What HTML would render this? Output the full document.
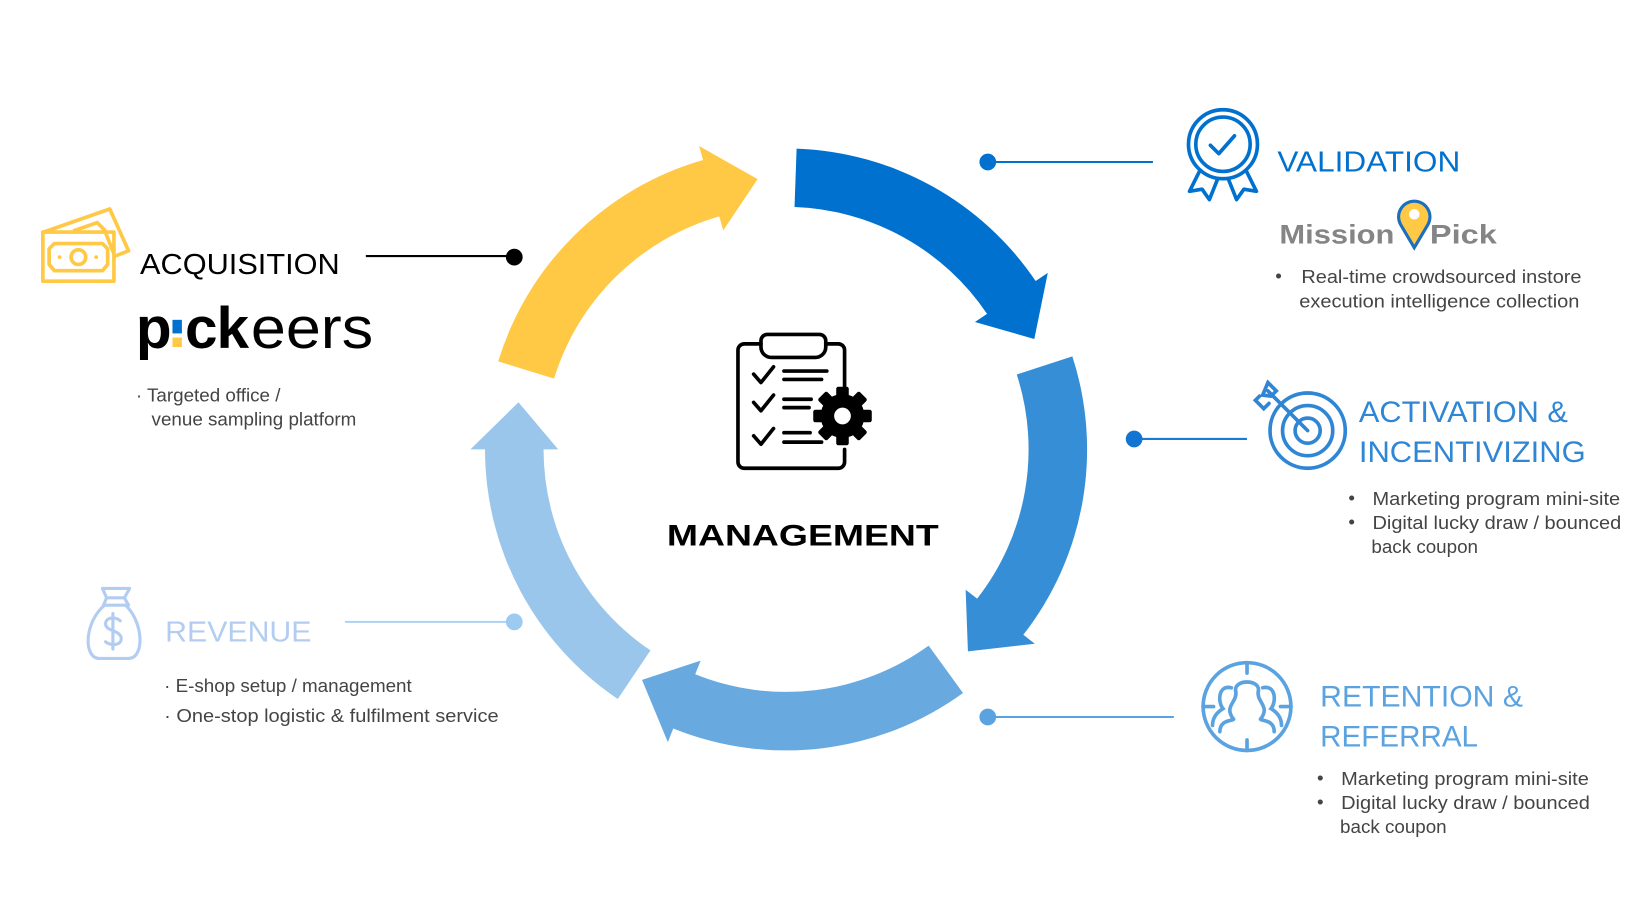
<!DOCTYPE html>
<html><head><meta charset="utf-8"><style>
html,body{margin:0;padding:0;background:#fff;}
svg{display:block;}
text{font-family:"Liberation Sans",sans-serif;}
</style></head><body>
<svg width="1639" height="902" viewBox="0 0 1568 863" preserveAspectRatio="none" xmlns="http://www.w3.org/2000/svg">
<rect width="1568" height="863" fill="#fff"/>
<!-- cycle arrows -->
<path d="M476.6,345.8 A288,288 0 0 1 672.6,153.1 L668.8,139.7 L724.8,171.4 L691.9,220.4 L688.1,207.0 A232,232 0 0 0 530.1,362.2 Z" fill="#FFC845"/>
<path d="M762.1,142.2 A288,288 0 0 1 990.8,268.9 L1002.4,261.1 L989.5,324.3 L932.7,308.1 L944.3,300.3 A232,232 0 0 0 760.1,198.1 Z" fill="#0071CE"/>
<path d="M1025.9,341.0 A288,288 0 0 1 979.0,607.3 L990.0,615.9 L926.0,623.2 L923.8,564.2 L934.8,572.8 A232,232 0 0 0 972.7,358.3 Z" fill="#368FD6"/>
<path d="M921.3,663.0 A288,288 0 0 1 644.1,697.0 L638.9,710.0 L614.2,650.5 L670.3,632.1 L665.1,645.1 A232,232 0 0 0 888.4,617.7 Z" fill="#68A9E0"/>
<path d="M591.0,668.8 A288,288 0 0 1 464,430 L450,430 L496,384.9 L534,430 L520,430 A232,232 0 0 0 622.3,622.3 Z" fill="#9BC6EB"/>

<!-- connectors -->
<line x1="350" y1="245" x2="492" y2="245" stroke="#000" stroke-width="2"/><circle cx="492" cy="246" r="8" fill="#000"/>
<line x1="945" y1="155" x2="1103" y2="155" stroke="#0071CE" stroke-width="2"/><circle cx="945" cy="155" r="8" fill="#0071CE"/>
<line x1="1085" y1="420" x2="1193" y2="420" stroke="#1b7bd4" stroke-width="2"/><circle cx="1085" cy="420" r="8" fill="#1275d2"/>
<line x1="945" y1="686" x2="1123" y2="686" stroke="#5ba3e0" stroke-width="2"/><circle cx="945" cy="686" r="8" fill="#5ba3e0"/>
<line x1="330" y1="595" x2="492" y2="595" stroke="#a9d3f5" stroke-width="2"/><circle cx="492" cy="595" r="8" fill="#9ccaf0"/>

<!-- center clipboard -->
<g fill="none" stroke="#000" stroke-width="3.5" stroke-linecap="round" stroke-linejoin="round">
<path d="M728,329 H712 a6,6 0 0 0 -6,6 V442 a6,6 0 0 0 6,6 H802 a6,6 0 0 0 6,-6 V430"/>
<path d="M790,329 H802 a6,6 0 0 1 6,6 V374"/>
<path d="M728,326 a6,6 0 0 1 6,-6 H784 a6,6 0 0 1 6,6 V332 a10,10 0 0 1 -10,10 H738 a10,10 0 0 1 -10,-10 Z"/>
<path d="M721,358 l7,8 l12,-15 M721,385 l7,8 l12,-15 M721,417 l7,8 l12,-15"/>
<path d="M750,355 H791 M750,363 H786 M750,382 H776 M750,390 H774 M750,414 H775 M750,423 H786"/>
</g>
<g transform="translate(806,398)">
<circle r="21" fill="#000"/>
<g fill="#000">
<rect x="-6" y="-28" width="12" height="56" rx="2"/>
<rect x="-6" y="-28" width="12" height="56" rx="2" transform="rotate(45)"/>
<rect x="-6" y="-28" width="12" height="56" rx="2" transform="rotate(90)"/>
<rect x="-6" y="-28" width="12" height="56" rx="2" transform="rotate(135)"/>
</g>
<circle r="8" fill="#fff"/>
</g>
<text x="638" y="522" font-size="28" font-weight="bold" textLength="260" lengthAdjust="spacingAndGlyphs">MANAGEMENT</text>

<!-- acquisition -->
<g fill="none" stroke="#FFC845" stroke-width="3.5" stroke-linejoin="round">
<path d="M42,222 L105,200 L123,240 L110,245"/>
<path d="M70,221 L93,213 L100,220 L109,243"/>
<rect x="41" y="222" width="68" height="47"/>
<path d="M52,233 H98 L103,238 V253 L98,259 H52 L47,253 V238 Z"/>
<circle cx="75" cy="246" r="7"/>
</g>
<circle cx="57" cy="246" r="1.8" fill="#FFC845"/><circle cx="92" cy="246" r="1.8" fill="#FFC845"/>
<text x="134" y="262" font-size="27" textLength="191" lengthAdjust="spacingAndGlyphs">ACQUISITION</text>
<text x="130" y="333" font-size="56" font-weight="bold" letter-spacing="-1">p</text>
<rect x="165" y="306" width="9" height="13" fill="#0071CE"/><rect x="165" y="323" width="9" height="9" fill="#FFC845"/>
<text x="177" y="333" font-size="56" font-weight="bold" letter-spacing="-1">ck</text>
<text x="240" y="333" font-size="56" textLength="117" lengthAdjust="spacingAndGlyphs">eers</text>
<g fill="#444" font-size="18">
<text x="130" y="384">· Targeted office /</text>
<text x="145" y="407">venue sampling platform</text>
</g>

<!-- revenue -->
<g fill="none" stroke="#b3cdf2" stroke-width="3" stroke-linejoin="round" stroke-linecap="round">
<path d="M98,563 H124 L119,572 H102 Z"/>
<path d="M102,572 L99,579 H123 L119,572"/>
<path d="M100,579 C80,596 80,630 95,630 H123 C138,630 138,596 120,579"/>
<path d="M115,594 C111,590 101,590 101,597 C101,604 116,603 116,611 C116,618 105,618 101,614 M108,587 V621"/>
</g>
<text x="158" y="614" font-size="27" fill="#b3cdf2" textLength="140" lengthAdjust="spacingAndGlyphs">REVENUE</text>
<g fill="#444" font-size="18">
<text x="157" y="662">· E-shop setup / management</text>
<text x="157" y="691" textLength="320" lengthAdjust="spacingAndGlyphs">· One-stop logistic &amp; fulfilment service</text>
</g>

<!-- validation -->
<g fill="none" stroke="#0071CE" stroke-width="3.5" stroke-linejoin="round" stroke-linecap="round">
<circle cx="1170" cy="138" r="33"/>
<circle cx="1170" cy="138" r="26"/>
<path d="M1158,139 l8,8 l15,-17"/>
<path d="M1148,163 L1138,183 L1150,181 L1157,191 L1165,171 M1192,163 L1202,183 L1190,181 L1183,191 L1175,171"/>
</g>
<text x="1222" y="164" font-size="27" fill="#0071CE" textLength="175" lengthAdjust="spacingAndGlyphs">VALIDATION</text>
<text x="1224" y="233" font-size="26" font-weight="bold" fill="#858585" textLength="110" lengthAdjust="spacingAndGlyphs">Mission</text>
<text x="1368" y="233" font-size="26" font-weight="bold" fill="#858585" textLength="64" lengthAdjust="spacingAndGlyphs">Pick</text>
<path d="M1353,237 L1340,215 A15,15 0 1 1 1366,215 Z" fill="#FFC845" stroke="#1a6fc0" stroke-width="3"/>
<circle cx="1353" cy="205" r="5" fill="#fff"/>
<g fill="#444" font-size="18">
<text x="1220" y="270">•</text>
<text x="1245" y="271" textLength="268" lengthAdjust="spacingAndGlyphs">Real-time crowdsourced instore</text>
<text x="1243" y="294" textLength="268" lengthAdjust="spacingAndGlyphs">execution intelligence collection</text>
</g>

<!-- activation -->
<g fill="none" stroke="#2f86d4" stroke-width="3.5" stroke-linecap="round">
<circle cx="1251" cy="412" r="36"/>
<circle cx="1251" cy="412" r="24"/>
<circle cx="1251" cy="412" r="12"/>
<path d="M1251,412 L1213,374 M1208,378 l5,-12 l8,8 l-5,5 z M1205,379 l-4,4 l8,8 l5,-5"/>
</g>
<g fill="#2f86d4" font-size="28">
<text x="1300" y="404" textLength="200" lengthAdjust="spacingAndGlyphs">ACTIVATION &amp;</text>
<text x="1300" y="442" textLength="217" lengthAdjust="spacingAndGlyphs">INCENTIVIZING</text>
</g>
<g fill="#444" font-size="18">
<text x="1290" y="482">•</text><text x="1313" y="483" textLength="237" lengthAdjust="spacingAndGlyphs">Marketing program mini-site</text>
<text x="1290" y="505">•</text><text x="1313" y="506" textLength="238" lengthAdjust="spacingAndGlyphs">Digital lucky draw / bounced</text>
<text x="1312" y="529">back coupon</text>
</g>

<!-- retention -->
<g fill="none" stroke="#5ba3e0" stroke-width="3.5" stroke-linecap="round">
<circle cx="1193" cy="676" r="42"/>
<path d="M1193,634 V644 M1193,708 V718 M1151,676 H1161 M1225,676 H1235"/>
<path d="M1180,688 C1170,675 1185,672 1182,660 C1182,650 1204,650 1204,660 C1201,672 1216,675 1206,688"/>
<path d="M1167,700 C1167,688 1180,690 1180,688 M1219,700 C1219,688 1206,690 1206,688"/>
<path d="M1178,658 C1165,655 1165,672 1170,678 C1160,684 1160,692 1160,694 M1208,658 C1221,655 1221,672 1216,678 C1226,684 1226,692 1226,694"/>
</g>
<g fill="#5ba3e0" font-size="28">
<text x="1263" y="676" textLength="194" lengthAdjust="spacingAndGlyphs">RETENTION &amp;</text>
<text x="1263" y="714" textLength="151" lengthAdjust="spacingAndGlyphs">REFERRAL</text>
</g>
<g fill="#444" font-size="18">
<text x="1260" y="750">•</text><text x="1283" y="751" textLength="237" lengthAdjust="spacingAndGlyphs">Marketing program mini-site</text>
<text x="1260" y="773">•</text><text x="1283" y="774" textLength="238" lengthAdjust="spacingAndGlyphs">Digital lucky draw / bounced</text>
<text x="1282" y="797">back coupon</text>
</g>
</svg>
</body></html>
